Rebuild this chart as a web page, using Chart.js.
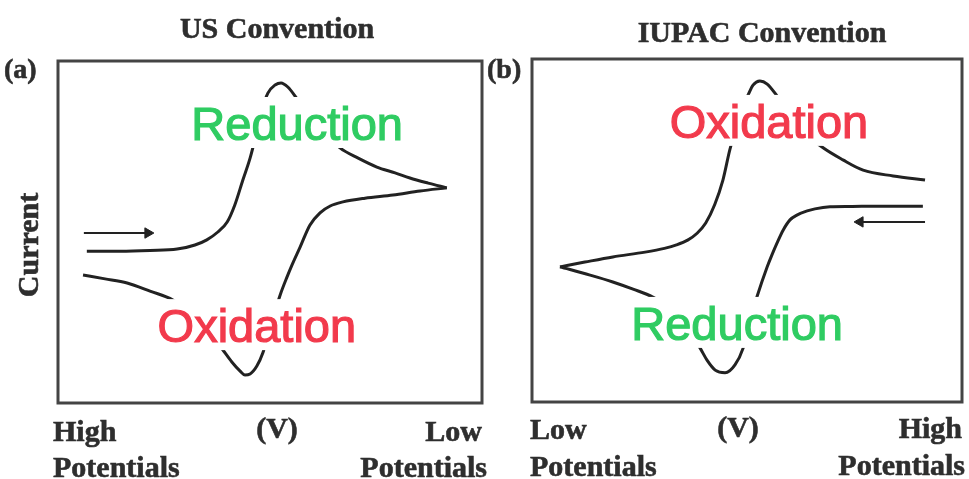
<!DOCTYPE html>
<html>
<head>
<meta charset="utf-8">
<script src="https://cdn.jsdelivr.net/npm/chart.js@4"></script>
<style>
  html, body { margin: 0; padding: 0; background: #fff; }
  #wrap { position: relative; width: 969px; height: 479px; }
  canvas { position: absolute; top: 0; }
  #chartA { left: 0; }
  #chartB { left: 485px; }
</style>
</head>
<body>
<div id="wrap">
  <canvas id="chartA" width="492" height="479"></canvas>
  <canvas id="chartB" width="484" height="479"></canvas>
</div>
<script>
// Schematic cyclic voltammograms, potential axis 0..100, current axis -50..50 (arbitrary units)

// (a) US convention: sweep from high to low potential (left -> right)
const usForwardX = [6.8, 14.6, 21.7, 28.1, 32.3, 35.1, 37.7, 39.9, 41.7, 43.6, 45.3, 46.7, 48.1, 49.5, 51.2, 52.6, 54.2, 56.6, 59.4, 63.0, 66.5, 70.8, 75.2, 79.5, 83.0, 87.3, 91.7];
const usForwardY = [-5.6, -5.6, -5.4, -5.0, -3.8, -2.3, 0.0, 2.9, 7.9, 15.2, 21.6, 28.4, 35.7, 40.6, 43.0, 43.6, 42.4, 38.6, 34.2, 28.9, 24.6, 21.6, 19.0, 17.3, 15.8, 14.3, 12.9];
const usReverseX = [91.7, 85.4, 79.0, 72.4, 67.2, 64.2, 61.8, 59.4, 57.1, 55.2, 54.0, 52.4, 50.9, 49.5, 48.3, 46.9, 45.3, 44.1, 42.9, 41.0, 38.9, 36.3, 32.3, 27.1, 21.7, 16.3, 11.1, 5.9];
const usReverseY = [12.9, 12.0, 10.8, 9.9, 8.8, 7.6, 5.6, 2.0, -4.4, -9.6, -13.2, -18.4, -24.3, -30.1, -35.4, -39.2, -41.5, -41.8, -40.6, -38.0, -34.5, -30.1, -25.1, -19.9, -17.3, -14.9, -13.7, -12.6];
const usArrowX = [6.1, 21.2];
const usArrowY = [-0.3, -0.3];

// (b) IUPAC convention: sweep from high to low potential (right -> left)
const iuForwardX = [90.9, 80.9, 74.0, 69.3, 65.8, 64.0, 61.6, 60.0, 58.4, 57.0, 55.8, 54.7, 52.3, 50.7, 49.1, 47.2, 44.9, 42.6, 40.7, 39.1, 35.6, 32.1, 28.1, 23.5, 18.8, 13.5, 6.5];
const iuForwardY = [7.1, 7.1, 7.0, 6.9, 6.3, 5.7, 4.5, 3.1, 0.1, -3.6, -7.1, -10.6, -19.4, -26.1, -34.3, -39.2, -41.5, -40.7, -37.8, -34.3, -27.6, -22.6, -19.4, -17.1, -15.0, -13.0, -10.6];
const iuReverseX = [6.5, 12.3, 18.8, 26.3, 30.8, 33.6, 36.2, 38.4, 40.4, 42.5, 44.4, 46.0, 47.7, 48.8, 50.0, 51.4, 53.0, 54.7, 57.2, 60.5, 64.2, 67.7, 72.3, 77.0, 84.0, 91.4];
const iuReverseY = [-10.6, -9.2, -7.7, -6.3, -5.2, -4.2, -2.8, -0.8, 2.2, 7.6, 14.7, 23.5, 30.8, 36.6, 38.9, 42.4, 43.6, 42.7, 38.9, 33.7, 27.8, 24.1, 20.6, 17.6, 15.9, 14.7];
const iuArrowX = [91.4, 76.3];
const iuArrowY = [2.5, 2.5];

const pts = (xs, ys) => xs.map((x, i) => ({ x: x, y: ys[i] }));

const serifBold = '"Liberation Serif", "Times New Roman", serif';
const sans = '"Liberation Sans", Arial, sans-serif';
const GREEN = '#2fcc62';
const RED = '#f23a4c';

// draws the frame, the peak labels (on white boxes) and the surrounding text
const panelText = {
    id: 'panelText',
    afterDatasetsDraw(chart, args, opts) {
        const ctx = chart.ctx;
        const a = chart.chartArea;
        const xs = chart.scales.x, ys = chart.scales.y;

        ctx.save();
        (opts.labels || []).forEach(l => {
            ctx.font = '47px ' + sans;
            ctx.textAlign = 'center';
            ctx.textBaseline = 'alphabetic';
            const px = xs.getPixelForValue(l.x);
            const py = ys.getPixelForValue(l.y);
            const w = ctx.measureText(l.text).width;
            ctx.fillStyle = '#fff';
            ctx.fillRect(px - w / 2 - 4, py - 43, w + 8, 51);
            ctx.fillStyle = l.color;
            ctx.strokeStyle = l.color;
            ctx.lineWidth = 1.2;
            ctx.fillText(l.text, px, py);
            ctx.strokeText(l.text, px, py);
        });

        ctx.strokeStyle = '#444';
        ctx.lineWidth = 3;
        ctx.strokeRect(a.left, a.top, a.right - a.left, a.bottom - a.top);

        ctx.fillStyle = '#2e2e2e';
        ctx.strokeStyle = '#2e2e2e';
        ctx.lineWidth = 0.6;
        (opts.texts || []).forEach(t => {
            ctx.font = 'bold ' + (t.size || 30) + 'px ' + serifBold;
            ctx.textAlign = t.align || 'left';
            ctx.textBaseline = 'alphabetic';
            if (t.rotate) {
                ctx.save();
                ctx.translate(t.x, t.y);
                ctx.rotate(-Math.PI / 2);
                ctx.fillText(t.text, 0, 0);
                ctx.strokeText(t.text, 0, 0);
                ctx.restore();
            } else {
                ctx.fillText(t.text, t.x, t.y);
                ctx.strokeText(t.text, t.x, t.y);
            }
        });
        ctx.restore();
    }
};

function makePanel(id, fwd, rev, arrow, arrowRot, padding, labels, texts) {
    const line = {
        showLine: true,
        borderColor: '#222',
        borderWidth: 3,
        pointRadius: 0,
        cubicInterpolationMode: 'monotone',
        fill: false
    };
    new Chart(document.getElementById(id), {
        type: 'scatter',
        data: {
            datasets: [
                Object.assign({ data: fwd }, line),
                Object.assign({ data: rev }, line),
                {
                    data: arrow,
                    showLine: true,
                    borderColor: '#222',
                    borderWidth: 2,
                    backgroundColor: '#222',
                    pointStyle: 'triangle',
                    rotation: arrowRot,
                    pointRadius: [0, 6],
                    pointBorderWidth: 1
                }
            ]
        },
        options: {
            responsive: false,
            animation: false,
            layout: { padding: padding },
            scales: {
                x: { type: 'linear', min: 0, max: 100, display: false },
                y: { type: 'linear', min: -50, max: 50, display: false }
            },
            plugins: {
                legend: { display: false },
                tooltip: { enabled: false },
                panelText: { labels: labels, texts: texts }
            }
        },
        plugins: [panelText]
    });
}

makePanel('chartA',
    pts(usForwardX, usForwardY), pts(usReverseX, usReverseY), pts(usArrowX, usArrowY), 90,
    { left: 58, right: 10, top: 61, bottom: 76 },
    [
        { text: 'Reduction', x: 56.4, y: 26.9, color: GREEN },
        { text: 'Oxidation', x: 46.9, y: -32.2, color: RED }
    ],
    [
        { text: 'US Convention', x: 277, y: 38, align: 'center' },
        { text: '(a)', x: 4, y: 78, size: 28 },
        { text: 'Current', x: 38, y: 245, align: 'center', rotate: true },
        { text: 'High', x: 53, y: 441 },
        { text: 'Potentials', x: 53, y: 477 },
        { text: '(V)', x: 277, y: 438, align: 'center' },
        { text: 'Low', x: 482, y: 441, align: 'right' },
        { text: 'Potentials', x: 487, y: 477, align: 'right' }
    ]);

makePanel('chartB',
    pts(iuForwardX, iuForwardY), pts(iuReverseX, iuReverseY), pts(iuArrowX, iuArrowY), -90,
    { left: 47, right: 7, top: 59, bottom: 77 },
    [
        { text: 'Oxidation', x: 55.1, y: 27.0, color: RED },
        { text: 'Reduction', x: 47.7, y: -31.9, color: GREEN }
    ],
    [
        { text: 'IUPAC Convention', x: 277, y: 42, align: 'center' },
        { text: '(b)', x: 2, y: 78, size: 28 },
        { text: 'Low', x: 45, y: 439 },
        { text: 'Potentials', x: 45, y: 476 },
        { text: '(V)', x: 253, y: 437, align: 'center' },
        { text: 'High', x: 477, y: 438, align: 'right' },
        { text: 'Potentials', x: 480, y: 475, align: 'right' }
    ]);
</script>
</body>
</html>
